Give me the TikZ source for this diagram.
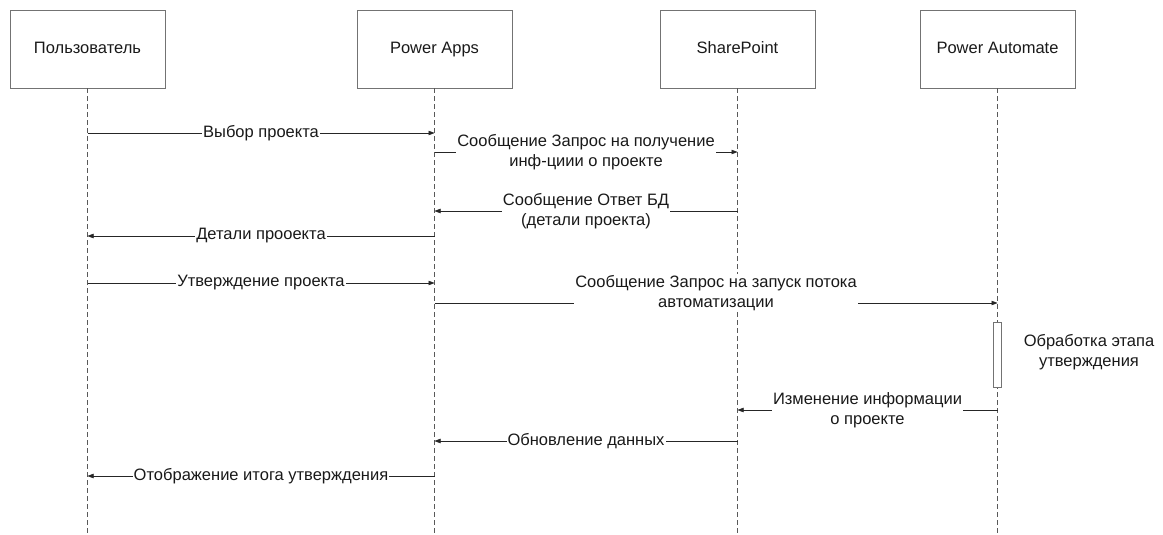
\documentclass[tikz,border=0pt]{standalone}
\usepackage{fontspec}
\setmainfont{Liberation Sans}
\usetikzlibrary{arrows.meta,positioning}
\def\kopfBreite{155pt}
\def\kopfHoehe{78pt}
\newcommand{\schrift}{\fontsize{16.5}{20}\selectfont}

\begin{document}
\begin{tikzpicture}[x=1pt,y=-1pt,
  kopf/.style={draw=black!55,line width=0.6pt,minimum width=\kopfBreite,minimum height=\kopfHoehe,font=\schrift,text=black!90,text height=12pt,text depth=3pt},
  lebenslinie/.style={draw=black!65,line width=0.5pt,dash pattern=on 5pt off 3pt},
  nachricht/.style={draw=black!85,line width=0.5pt,-{Triangle[length=6pt,width=4.5pt]}},
  beschriftung/.style={fill=white,inner sep=1pt,align=center,font=\schrift,text=black!90}]
  \useasboundingbox (0,0) rectangle (1163,535);
  \node[kopf] (nutzer) at (87.5,49) {Пользователь};
  \node[kopf] (apps) at (434.5,49) {Power Apps};
  \node[kopf] (sharepoint) at (737.5,49) {SharePoint};
  \node[kopf] (automate) at (997.5,49) {Power Automate};
  \foreach \n in {nutzer,apps,sharepoint,automate}
    \draw[lebenslinie] (\n.south) -- (\n.south |- 0,535);
  \node[draw=black!55,line width=0.6pt,fill=white,minimum width=8pt,minimum height=65pt,inner sep=0pt] (aktiv) at (automate |- 0,354.5) {};
  \node[align=center,font=\schrift,text=black!90] (aktivtext) at (1089,352) {Обработка этапа\\утверждения};
  \draw[nachricht] (nutzer |- 0,133) -- node[beschriftung]{Выбор проекта} (apps |- 0,133);
  \draw[nachricht] (apps |- 0,152) -- node[beschriftung]{Сообщение Запрос на получение\\инф-циии о проекте} (sharepoint |- 0,152);
  \draw[nachricht] (sharepoint |- 0,211) -- node[beschriftung]{Сообщение Ответ БД\\(детали проекта)} (apps |- 0,211);
  \draw[nachricht] (apps |- 0,236) -- node[beschriftung]{Детали прооекта} (nutzer |- 0,236);
  \draw[nachricht] (nutzer |- 0,283) -- node[beschriftung]{Утверждение проекта} (apps |- 0,283);
  \draw[nachricht] (apps |- 0,303) -- node[beschriftung,yshift=10pt]{Сообщение Запрос на запуск потока\\автоматизации} (automate |- 0,303);
  \draw[nachricht] (aktiv.south |- 0,410) -- node[beschriftung]{Изменение информации\\о проекте} (sharepoint |- 0,410);
  \draw[nachricht] (sharepoint |- 0,441) -- node[beschriftung]{Обновление данных} (apps |- 0,441);
  \draw[nachricht] (apps |- 0,476) -- node[beschriftung]{Отображение итога утверждения} (nutzer |- 0,476);
\end{tikzpicture}
\end{document}
